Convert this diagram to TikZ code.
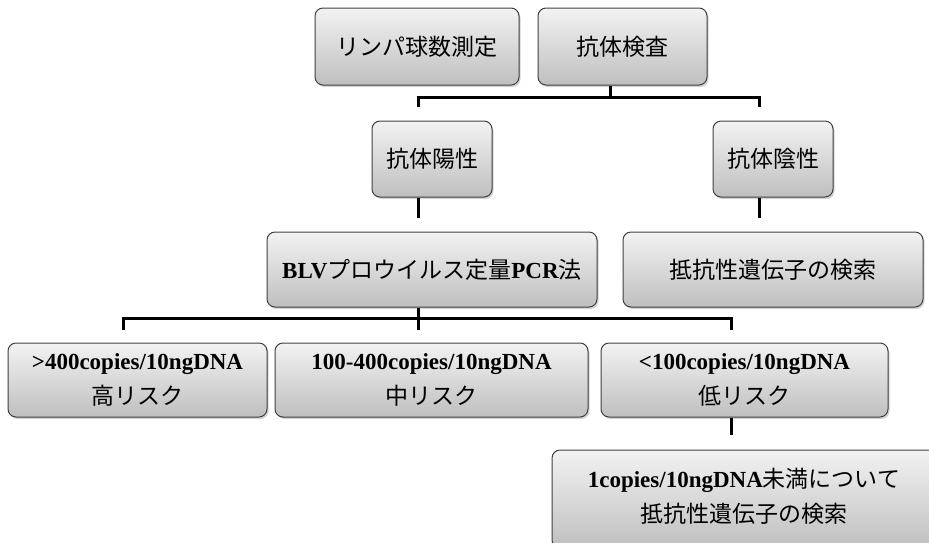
\documentclass[tikz,border=0pt]{standalone}
\usepackage{fontspec}
\setmainfont{Liberation Serif}
\newfontfamily\jpfont{Noto Sans CJK JP}
\newcommand{\jp}[1]{{\jpfont #1}}
\usetikzlibrary{shadows}

\begin{document}
\begin{tikzpicture}[x=1pt, y=-1pt,
    stage/.style = {rectangle, rounded corners=8pt, draw=black!75, line width=1pt,
                    top color=black!5, bottom color=black!25,
                    drop shadow={opacity=0.35, shadow xshift=1.5pt, shadow yshift=-2pt},
                    inner sep=0pt, align=center},
    link/.style = {line width=3pt},
    font=\fontsize{23pt}{35pt}\selectfont]
  \useasboundingbox (0, 0) rectangle (929, 542);
  \clip (0, 0) rectangle (929, 542);

  % Tests.
  \node at (417, 46.5) [stage, minimum width=204pt, minimum height=77pt, name=Lymphocyte] {\jp{リンパ球数測定}};
  \node at (622.5, 46.5) [stage, minimum width=169pt, minimum height=77pt, name=Antibody] {\jp{抗体検査}};

  % Antibody results.
  \node at (432, 159) [stage, minimum width=120pt, minimum height=76pt, name=Positive] {\jp{抗体陽性}};
  \node at (773, 159) [stage, minimum width=120pt, minimum height=76pt, name=Negative] {\jp{抗体陰性}};
  \node at (432, 269.5) [stage, minimum width=330pt, minimum height=75pt, name=Proviral] {\textbf{BLV}\jp{プロウイルス定量}\textbf{PCR}\jp{法}};
  \node at (773, 269.5) [stage, minimum width=300pt, minimum height=75pt, name=ResistNeg] {\jp{抵抗性遺伝子の検索}};

  % Risk classes.
  \node at (137.5, 380) [stage, minimum width=259pt, minimum height=74pt, name=HighRisk] {\textbf{>400copies/10ngDNA}\\\jp{高リスク}};
  \node at (431.5, 380) [stage, minimum width=313pt, minimum height=74pt, name=MidRisk] {\textbf{100-400copies/10ngDNA}\\\jp{中リスク}};
  \node at (744.5, 380) [stage, minimum width=287pt, minimum height=74pt, name=LowRisk] {\textbf{<100copies/10ngDNA}\\\jp{低リスク}};
  \node at (744, 499) [stage, minimum width=384pt, minimum height=98pt, text depth=8pt, name=ResistLow] {\textbf{1copies/10ngDNA}\jp{未満について}\\\jp{抵抗性遺伝子の検索}};

  % Branch points.
  \coordinate (antibody) at (610, 97);
  \coordinate (proviral) at (418, 318);

  % Connectors.
  \draw [link] (Antibody.south -| antibody)
               to (antibody);
  \draw [link] ([xshift=-14pt, yshift=14pt]Positive.north)
               |- (antibody)
               -| ([xshift=-14pt, yshift=14pt]Negative.north);
  \draw [link] ([xshift=-14pt]Positive.south)
               to ([xshift=-14pt, yshift=14pt]Proviral.north);
  \draw [link] ([xshift=-14pt]Negative.south)
               to ([xshift=-14pt, yshift=14pt]ResistNeg.north);
  \draw [link] ([xshift=-14pt]Proviral.south)
               to (proviral);
  \draw [link] ([xshift=-14.5pt, yshift=13pt]HighRisk.north)
               |- (proviral)
               -| ([xshift=-13.5pt, yshift=13pt]LowRisk.north);
  \draw [link] (proviral)
               to ([xshift=-13.5pt, yshift=13pt]MidRisk.north);
  \draw [link] ([xshift=-13.5pt]LowRisk.south)
               to ([xshift=-13pt, yshift=15pt]ResistLow.north);
\end{tikzpicture}
\end{document}
